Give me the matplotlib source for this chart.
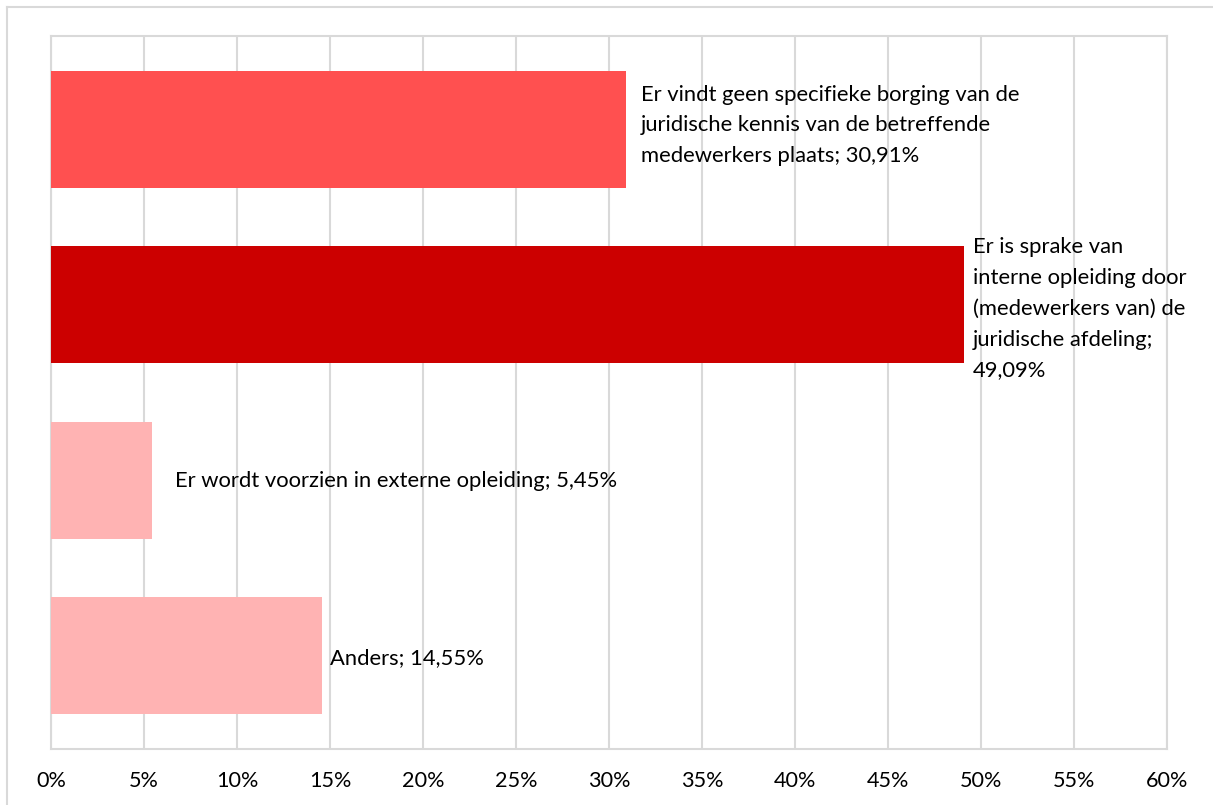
import matplotlib
matplotlib.use("Agg")
import matplotlib.pyplot as plt
from matplotlib.lines import Line2D

categories = [
    "Er vindt geen specifieke borging van de\njuridische kennis van de betreffende\nmedewerkers plaats",
    "Er is sprake van\ninterne opleiding door\n(medewerkers van) de\njuridische afdeling;",
    "Er wordt voorzien in externe opleiding",
    "Anders",
]
values = [30.91, 49.09, 5.45, 14.55]
value_labels = ["30,91%", "49,09%", "5,45%", "14,55%"]
tick_values = list(range(0, 61, 5))
tick_labels = [f"{t}%" for t in tick_values]

colors = ["#FF5050", "#CC0000", "#FFB3B3", "#FFB3B3"]
label_texts = [
    categories[0] + "; " + value_labels[0],
    categories[1] + "\n" + value_labels[1],
    categories[2] + "; " + value_labels[2],
    categories[3] + "; " + value_labels[3],
]
label_offsets_px = [15, 9, 23, 8]
label_dy_px = [4, -4, -1, -3]

W, H = 1213, 805
fig = plt.figure(figsize=(W / 100, H / 100), dpi=100)
plt.rcParams['font.family'] = ['Lato', 'DejaVu Sans']
ax = fig.add_axes([51 / W, (H - 749) / H, (1167 - 51) / W, (749 - 36) / H])

ypos = list(range(len(values)))
ax.barh(ypos, values, height=0.667, color=colors, zorder=3)
ax.set_ylim(3.533, -0.533)
ax.set_xlim(0, 60)
ax.set_xticks(tick_values)
ax.set_xticklabels(tick_labels, fontsize=15.6, color="#000000")
ax.set_yticks([])
ax.tick_params(axis="x", length=0, pad=16)
ax.grid(axis="x", color="#D9D9D9", linewidth=1.5, zorder=0)
for s in ax.spines.values():
    s.set_color("#D9D9D9")
    s.set_linewidth(1.5)

for y, v, txt, dx, dy in zip(ypos, values, label_texts, label_offsets_px, label_dy_px):
    ax.annotate(txt, xy=(v, y), xytext=(dx * 0.72, dy * 0.72), textcoords="offset points",
                ha="left", va="center", fontsize=15.8, color="#000000",
                linespacing=1.67, zorder=4)

# outer chart border
fig.add_artist(Line2D([7 / W, 7 / W], [0, (H - 7) / H], transform=fig.transFigure,
                      color="#D9D9D9", linewidth=1.5))
fig.add_artist(Line2D([7 / W, 1], [(H - 7) / H, (H - 7) / H], transform=fig.transFigure,
                      color="#D9D9D9", linewidth=1.5))

fig.savefig("out.png", dpi=100)
